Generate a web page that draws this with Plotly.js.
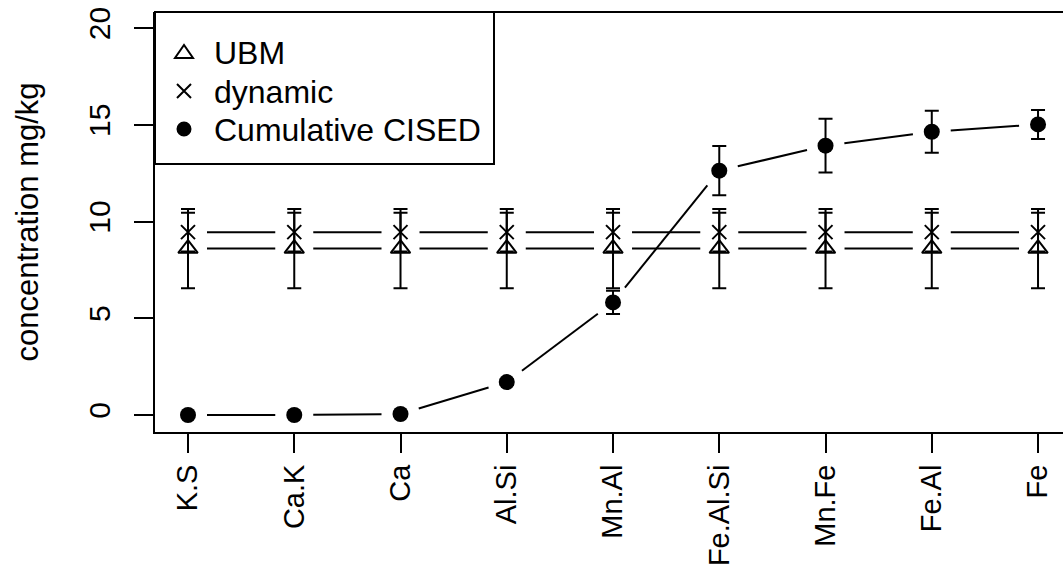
<!DOCTYPE html>
<html>
<head>
<meta charset="utf-8">
<script src="https://cdn.plot.ly/plotly-3.0.1.min.js"></script>
<style>html,body{margin:0;padding:0;background:#fff;overflow:hidden}#chart{width:1063px;height:586px}</style>
</head>
<body>
<div id="chart"></div>
<script>
// ---- data ----
var categories = ["K.S", "Ca.K", "Ca", "Al.Si", "Mn.Al", "Fe.Al.Si", "Mn.Fe", "Fe.Al", "Fe"];
var ubm      = [8.6, 8.6, 8.6, 8.6, 8.6, 8.6, 8.6, 8.6, 8.6];
var ubmErr   = [2.05, 2.05, 2.05, 2.05, 2.05, 2.05, 2.05, 2.05, 2.05];
var dynamic  = [9.45, 9.45, 9.45, 9.45, 9.45, 9.45, 9.45, 9.45, 9.45];
var dynErr   = [1.0, 1.0, 1.0, 1.0, 1.0, 1.0, 1.0, 1.0, 1.0];
var cised    = [0, 0, 0.05, 1.7, 5.82, 12.63, 13.92, 14.64, 15.02];
var cisedErr = [0, 0, 0.05, 0.15, 0.6, 1.27, 1.39, 1.08, 0.75];
var seriesNames = ["UBM", "dynamic", "Cumulative CISED"];
var yTicks = [0, 5, 10, 15, 20];
var yTitle = "concentration mg/kg";

// ---- layout constants ----
var W = 1063, H = 586;
var M = {l: 155, r: 0, t: 12, b: 154};
var PW = W - M.l - M.r, PH = H - M.t - M.b;
var xr = [-0.3106, 8.235];
var yr = [-0.88, 20.83];
var FONT = "Liberation Sans, Arial, Helvetica, sans-serif";
var GAP = 19; // px gap around points (R type="b")

var xIdx = categories.map(function(_, i){ return i; });
var pxX = PW / (xr[1] - xr[0]);
var pxY = PH / (yr[1] - yr[0]);

function gappedLine(xs, ys) {
  var ox = [], oy = [];
  for (var i = 0; i < xs.length - 1; i++) {
    var dx = (xs[i+1] - xs[i]) * pxX, dy = (ys[i+1] - ys[i]) * pxY;
    var len = Math.sqrt(dx*dx + dy*dy);
    if (len <= 2*GAP) continue;
    var f = GAP / len;
    ox.push(xs[i] + (xs[i+1]-xs[i])*f, xs[i+1] - (xs[i+1]-xs[i])*f, null);
    oy.push(ys[i] + (ys[i+1]-ys[i])*f, ys[i+1] - (ys[i+1]-ys[i])*f, null);
  }
  return {x: ox, y: oy};
}

function lineTrace(ys) {
  var g = gappedLine(xIdx, ys);
  return {x: g.x, y: g.y, mode: "lines", type: "scatter", showlegend: false,
          hoverinfo: "skip", line: {color: "black", width: 2}};
}

var errStyle = {type: "data", visible: true, color: "black", thickness: 2, width: 7};

var traces = [
  lineTrace(ubm), lineTrace(dynamic), lineTrace(cised),
  {x: xIdx, y: ubm, name: seriesNames[0], mode: "markers", type: "scatter", showlegend: false,
   marker: {symbol: "triangle-up-open", size: 17, color: "black", line: {color: "black", width: 2}},
   error_y: Object.assign({array: ubmErr}, errStyle)},
  {x: xIdx, y: dynamic, name: seriesNames[1], mode: "markers", type: "scatter", showlegend: false,
   marker: {symbol: "x-thin-open", size: 14, color: "black", line: {color: "black", width: 2}},
   error_y: Object.assign({array: dynErr}, errStyle)},
  {x: xIdx, y: cised, name: seriesNames[2], mode: "markers", type: "scatter", showlegend: false,
   marker: {symbol: "circle", size: 16, color: "black", line: {width: 0}},
   error_y: Object.assign({array: cisedErr}, errStyle)}
];

// ---- manual legend (R-style box) ----
function px2paperX(px) { return (px - M.l) / PW; }
function px2paperY(py) { return (M.t + PH - py) / PH; }
var legRows = [52, 91, 129];
var legSymX = px2paperX(184), legTextX = px2paperX(212);

var shapes = [
  {type: "line", xref: "paper", yref: "paper", x0: 0, x1: 1, y0: 1, y1: 1,
   line: {color: "black", width: 2}},
  {type: "rect", xref: "paper", yref: "paper", layer: "below",
   x0: 0, x1: px2paperX(494), y0: px2paperY(164), y1: 1,
   fillcolor: "white", line: {color: "black", width: 2}},
  {type: "path", xref: "paper", yref: "paper", xsizemode: "pixel", ysizemode: "pixel",
   xanchor: legSymX, yanchor: px2paperY(legRows[0]),
   path: "M-9,-6 L9,-6 L0,7 Z", line: {color: "black", width: 2}},
  {type: "path", xref: "paper", yref: "paper", xsizemode: "pixel", ysizemode: "pixel",
   xanchor: legSymX, yanchor: px2paperY(legRows[1]),
   path: "M-7,-7 L7,7 M-7,7 L7,-7", line: {color: "black", width: 2}},
  {type: "circle", xref: "paper", yref: "paper", xsizemode: "pixel", ysizemode: "pixel",
   xanchor: legSymX, yanchor: px2paperY(legRows[2]),
   x0: -7.5, x1: 7.5, y0: -7.5, y1: 7.5, fillcolor: "black", line: {color: "black", width: 0}}
];

var annotations = seriesNames.map(function(n, i) {
  return {text: n, xref: "paper", yref: "paper", x: legTextX, y: px2paperY(legRows[i] + 1),
          xanchor: "left", yanchor: "middle", showarrow: false,
          font: {family: FONT, size: 32, color: "black"}};
});

var layout = {
  width: W, height: H,
  margin: M,
  paper_bgcolor: "white", plot_bgcolor: "white",
  font: {family: FONT, size: 30, color: "black"},
  showlegend: false,
  xaxis: {range: xr, tickmode: "array", tickvals: xIdx, ticktext: categories,
          tickangle: -90, ticks: "outside", ticklen: 19, tickwidth: 2, tickcolor: "black",
          ticklabelstandoff: 0,
          showline: true, linecolor: "black", linewidth: 2, showgrid: false, zeroline: false,
          tickfont: {family: FONT, size: 29}, automargin: false, fixedrange: true},
  yaxis: {range: yr, tickmode: "array", tickvals: yTicks, ticktext: yTicks.map(String),
          tickangle: -90, ticks: "outside", ticklen: 19, tickwidth: 2, tickcolor: "black",
          ticklabelstandoff: 12,
          showline: true, linecolor: "black", linewidth: 2, showgrid: false, zeroline: false,
          tickfont: {family: FONT, size: 30}, automargin: false, fixedrange: true,
          title: {text: yTitle, font: {family: FONT, size: 31}, standoff: 35}},
  shapes: shapes,
  annotations: annotations
};

Plotly.newPlot("chart", traces, layout, {displayModeBar: false, staticPlot: true});
</script>
</body>
</html>
